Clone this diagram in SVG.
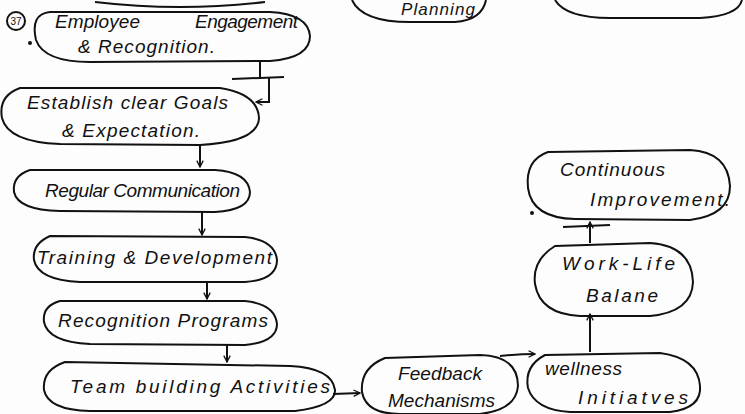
<svg xmlns="http://www.w3.org/2000/svg" width="745" height="414" viewBox="0 0 745 414">
<defs>
<marker id="ah" viewBox="0 0 10 10" refX="9" refY="5" markerWidth="8" markerHeight="8" orient="auto-start-reverse" markerUnits="userSpaceOnUse">
<path d="M1,1 L9,5 L1,9" fill="none" stroke="#111" stroke-width="1.6"/>
</marker>
<style>
.n{fill:none;stroke:#111;stroke-width:2}
.c{fill:none;stroke:#111;stroke-width:2}
.t{font-family:"Liberation Sans","DejaVu Sans",sans-serif;font-size:19px;fill:#111;font-style:italic}
.s{font-size:10px;font-style:normal}
</style>
</defs>
<rect width="745" height="414" fill="#fdfdfd"/>
<g id="partial-top">
<path class="n" d="M95,2 Q180,12 265,2"/>
<path class="n" d="M352,0 Q362,22 410,22 L455,22 Q482,20 486,0"/>
<text class="t" x="401" y="15" textLength="74" lengthAdjust="spacing" style="font-size:17px">Planning</text>
<path class="n" d="M555,0 Q566,18 610,18 L700,18 Q738,16 742,0"/>
<circle cx="16" cy="21" r="9" class="n" stroke-width="1.5"/>
<text class="t s" x="16" y="25" text-anchor="middle">37</text>
<circle cx="30" cy="43" r="2" fill="#111"/>
<circle cx="532" cy="213" r="2" fill="#111"/>
</g>
<g id="n1">
<path class="n" d="M50,12 Q30,14 36,40 Q44,62 90,62 L270,61 Q310,58 310,36 Q308,14 270,12 Z"/>
<text class="t" x="55" y="28" textLength="85" lengthAdjust="spacing">Employee</text>
<text class="t" x="195" y="28" textLength="103" lengthAdjust="spacing">Engagement</text>
<text class="t" x="78" y="53" textLength="137" lengthAdjust="spacing">&amp; Recognition.</text>
</g>
<g id="n2">
<path class="n" d="M20,88 Q-2,96 2,118 Q8,142 60,144 L200,145 Q258,142 259,118 Q258,94 220,88 Z"/>
<text class="t" x="27" y="109" textLength="201" lengthAdjust="spacing">Establish clear Goals</text>
<text class="t" x="62" y="137" textLength="138" lengthAdjust="spacing">&amp; Expectation.</text>
</g>
<g id="n3">
<path class="n" d="M30,170 Q12,176 14,192 Q18,210 60,211 L215,212 Q250,210 250,192 Q248,172 215,170 Z"/>
<text class="t" x="45" y="197" textLength="195" lengthAdjust="spacing">Regular Communication</text>
</g>
<g id="n4">
<path class="n" d="M50,236 Q32,244 34,260 Q38,280 80,282 L245,282 Q277,280 277,260 Q275,240 245,237 Z"/>
<text class="t" x="37" y="264" textLength="235" lengthAdjust="spacing">Training &amp; Development</text>
</g>
<g id="n5">
<path class="n" d="M60,301 Q42,306 44,322 Q48,342 90,344 L245,345 Q277,342 277,324 Q275,304 245,301 Z"/>
<text class="t" x="58" y="327" textLength="210" lengthAdjust="spacing">Recognition Programs</text>
</g>
<g id="n6">
<path class="n" d="M65,362 Q42,370 44,390 Q48,410 90,411 L295,411 Q336,406 335,390 Q332,368 290,366 Z"/>
<text class="t" x="70" y="393" textLength="260" lengthAdjust="spacing">Team building Activities</text>
</g>
<g id="n7">
<path class="n" d="M385,358 Q360,368 362,392 Q366,414 400,414 L480,414 Q516,410 518,386 Q518,356 480,355 Z"/>
<text class="t" x="398" y="380" textLength="84" lengthAdjust="spacing">Feedback</text>
<text class="t" x="388" y="407" textLength="107" lengthAdjust="spacing">Mechanisms</text>
</g>
<g id="n8">
<path class="n" d="M545,355 Q524,366 528,388 Q535,410 570,412 L670,412 Q702,408 700,386 Q698,358 660,353 Z"/>
<text class="t" x="545" y="375" textLength="77" lengthAdjust="spacing">wellness</text>
<text class="t" x="578" y="404" textLength="110" lengthAdjust="spacing">Initiatves</text>
</g>
<g id="n9">
<path class="n" d="M555,246 Q532,260 535,284 Q540,314 580,316 L650,316 Q692,312 693,282 Q692,246 650,243 Z"/>
<text class="t" x="562" y="270" textLength="113" lengthAdjust="spacing">Work-Life</text>
<text class="t" x="586" y="302" textLength="72" lengthAdjust="spacing">Balane</text>
</g>
<g id="n10">
<path class="n" d="M548,152 Q525,160 528,188 Q532,218 575,219 L690,220 Q730,215 730,186 Q728,152 690,150 Z"/>
<text class="t" x="560" y="176" textLength="105" lengthAdjust="spacing">Continuous</text>
<text class="t" x="590" y="206" textLength="140" lengthAdjust="spacing">Improvement.</text>
</g>
<g id="connectors">
<path class="c" d="M260,62 L260,78"/>
<path class="c" d="M232,79 L284,77"/>
<path class="c" d="M269,78 L269,102 L256,102" marker-end="url(#ah)"/>
<path class="c" d="M200,145 L200,167" marker-end="url(#ah)"/>
<path class="c" d="M202,212 L202,235" marker-end="url(#ah)"/>
<path class="c" d="M207,283 L207,299" marker-end="url(#ah)"/>
<path class="c" d="M227,345 L227,362" marker-end="url(#ah)"/>
<path class="c" d="M333,394 L360,393" marker-end="url(#ah)"/>
<path class="c" d="M500,356 Q520,354 535,354" marker-end="url(#ah)"/>
<path class="c" d="M590,352 L590,314" marker-end="url(#ah)"/>
<path class="c" d="M590,243 L590,222" marker-end="url(#ah)"/>
<path class="c" d="M563,227 L610,225"/>
</g>
</svg>
